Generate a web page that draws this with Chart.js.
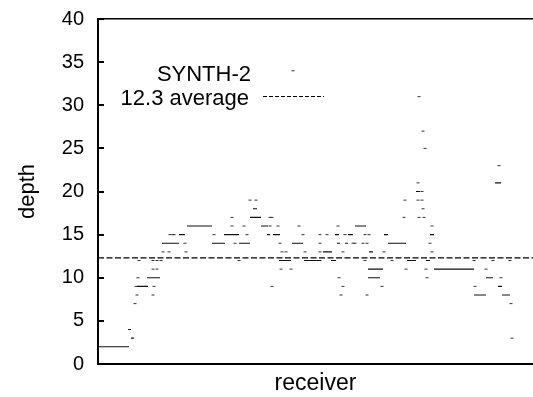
<!DOCTYPE html>
<html>
<head>
<meta charset="utf-8">
<script src="https://cdn.jsdelivr.net/npm/chart.js@4/dist/chart.umd.min.js"></script>
<style>
  body { margin: 0; background: #fff; }
  canvas { display: block; }
</style>
</head>
<body>
<canvas id="depth-chart" width="533" height="397"></canvas>
<script>
// runs of receivers that share the same depth
const runFrom  = [0, 33, 30, 39, 49, 64, 74, 81, 89, 114, 126, 141, 148, 152, 155, 163, 169, 175, 181, 194, 206,
                  225, 233, 237, 239, 247, 250, 257, 270, 270, 271, 286, 290, 309, 318, 328, 332, 336, 370, 376, 388, 397, 400, 404];
const runTo    = [31, 36, 33, 50, 62, 75, 81, 87, 114, 127, 141, 151, 152, 163, 159, 170, 172, 182, 193, 205, 223,
                  234, 238, 241, 242, 250, 255, 268, 285, 282, 275, 290, 308, 318, 322, 332, 336, 371, 376, 388, 395, 403, 404, 412];
const runDepth = [2, 3, 4, 9, 10, 14, 14, 15, 16, 14, 15, 14, 14, 17, 18, 16, 15, 15, 12, 14, 12,
                  13, 12, 15, 14, 14, 15, 16, 11, 10, 13, 15, 14, 12, 20, 12, 15, 11, 11, 8, 10, 21, 9, 8];

// single receivers
const dotAt    = [37, 39, 55, 38, 56, 40, 55, 59, 41, 55, 59, 63, 65, 71, 72, 76,
                  134, 134, 146, 75, 116, 149, 87, 137, 88, 141,
                  152, 158, 172, 174, 172, 180, 201, 205, 182, 222, 184, 188, 207, 222, 183, 193, 174,
                  240, 222, 229, 247, 267, 271, 255, 257, 265, 269, 245, 286, 222, 267, 294, 241, 245, 284, 243, 269,
                  195,
                  321, 325, 327, 320, 324, 307, 320, 324, 325, 306, 321, 326, 334, 332, 334, 308, 328, 329,
                  401, 376, 395, 412, 388, 403, 377, 413, 414];
const dotDepth = [7, 8, 8, 9, 9, 10, 11, 11, 12, 12, 12, 12, 13, 13, 15, 15,
                  17, 16, 16, 15, 15, 15, 14, 14, 13, 12,
                  19, 19, 17, 17, 16, 16, 16, 15, 14, 14, 13, 13, 13, 13, 11, 11, 9,
                  16, 15, 15, 15, 15, 15, 14, 14, 14, 14, 13, 13, 12, 12, 12, 10, 9, 9, 8, 8,
                  34,
                  31, 27, 25, 21, 20, 19, 19, 19, 18, 17, 17, 17, 16, 14, 13, 11, 11, 10,
                  23, 12, 12, 12, 11, 10, 9, 7, 3];

const average = 12.3;
const yTicks = [0, 5, 10, 15, 20, 25, 30, 35, 40];
const receiverCount = 435;

const runPoints = [];
runFrom.forEach((from, i) => {
    runPoints.push({x: from, y: runDepth[i]});
    runPoints.push({x: runTo[i], y: runDepth[i]});
    runPoints.push({x: runTo[i], y: null});
});
const dotPoints = dotAt.map((x, i) => ({x: x, y: dotDepth[i]}));

const FONT = '"Liberation Sans", Arial, Helvetica, sans-serif';

// inside tick marks and the legend text
const extras = {
    id: 'extras',
    afterDraw(chart) {
        const {ctx, chartArea: a, scales: {y}} = chart;
        ctx.save();
        ctx.strokeStyle = '#000';
        ctx.lineWidth = 2;
        yTicks.forEach(t => {
            const py = Math.round(y.getPixelForValue(t));
            ctx.beginPath();
            ctx.moveTo(a.left, py);
            ctx.lineTo(a.left + 6, py);
            ctx.stroke();
        });

        ctx.fillStyle = '#000';
        ctx.font = '22px ' + FONT;
        ctx.textAlign = 'right';
        ctx.textBaseline = 'alphabetic';
        ctx.fillText('SYNTH-2', 251, 81);
        ctx.fillText('12.3 average', 249, 105);

        ctx.lineWidth = 1;
        ctx.setLineDash([4, 2]);
        ctx.beginPath();
        ctx.moveTo(263, 96.5);
        ctx.lineTo(324, 96.5);
        ctx.stroke();
        ctx.restore();
    }
};

new Chart(document.getElementById('depth-chart'), {
    type: 'scatter',
    data: {
        datasets: [
            {
                label: 'runs',
                data: runPoints,
                showLine: true,
                spanGaps: false,
                pointRadius: 0,
                pointHoverRadius: 0,
                borderColor: '#111',
                borderWidth: 1.2
            },
            {
                label: 'dots',
                data: dotPoints,
                pointStyle: 'line',
                pointRadius: 1.5,
                pointHoverRadius: 1.5,
                borderWidth: 1,
                borderColor: '#333'
            },
            {
                label: 'average',
                data: [{x: 0, y: average}, {x: receiverCount, y: average}],
                showLine: true,
                pointRadius: 0,
                pointHoverRadius: 0,
                borderColor: '#000',
                borderWidth: 1.3,
                borderDash: [6, 2.5]
            }
        ]
    },
    options: {
        responsive: false,
        animation: false,
        devicePixelRatio: 1,
        events: [],
        layout: {autoPadding: false, padding: {top: 19, left: 0, right: 0, bottom: 0}},
        plugins: {legend: {display: false}, tooltip: {enabled: false}},
        scales: {
            x: {
                type: 'linear',
                min: 0,
                max: receiverCount,
                grid: {display: false},
                border: {display: true, color: '#000', width: 2},
                ticks: {display: false},
                title: {display: true, text: 'receiver', color: '#000', font: {family: FONT, size: 23}, padding: {top: 2, bottom: 0}},
                afterFit(scale) { scale.height = 33; scale.paddingLeft = 0; scale.paddingRight = 0; }
            },
            xTop: {
                type: 'linear',
                position: 'top',
                min: 0,
                max: receiverCount,
                grid: {display: false},
                border: {display: true, color: '#000', width: 1.5},
                ticks: {display: false},
                afterFit(scale) { scale.height = 0; scale.paddingLeft = 0; scale.paddingRight = 0; }
            },
            y: {
                min: 0,
                max: 40,
                grid: {display: false, drawTicks: false},
                border: {display: true, color: '#000', width: 2},
                ticks: {stepSize: 5, color: '#000', padding: 14, font: {family: FONT, size: 20}},
                title: {display: true, text: 'depth', color: '#000', font: {family: FONT, size: 22}, padding: {top: 15, bottom: 0}},
                afterFit(scale) { scale.width = 98; scale.paddingTop = 0; scale.paddingBottom = 0; }
            }
        }
    },
    plugins: [extras]
});
</script>
</body>
</html>
